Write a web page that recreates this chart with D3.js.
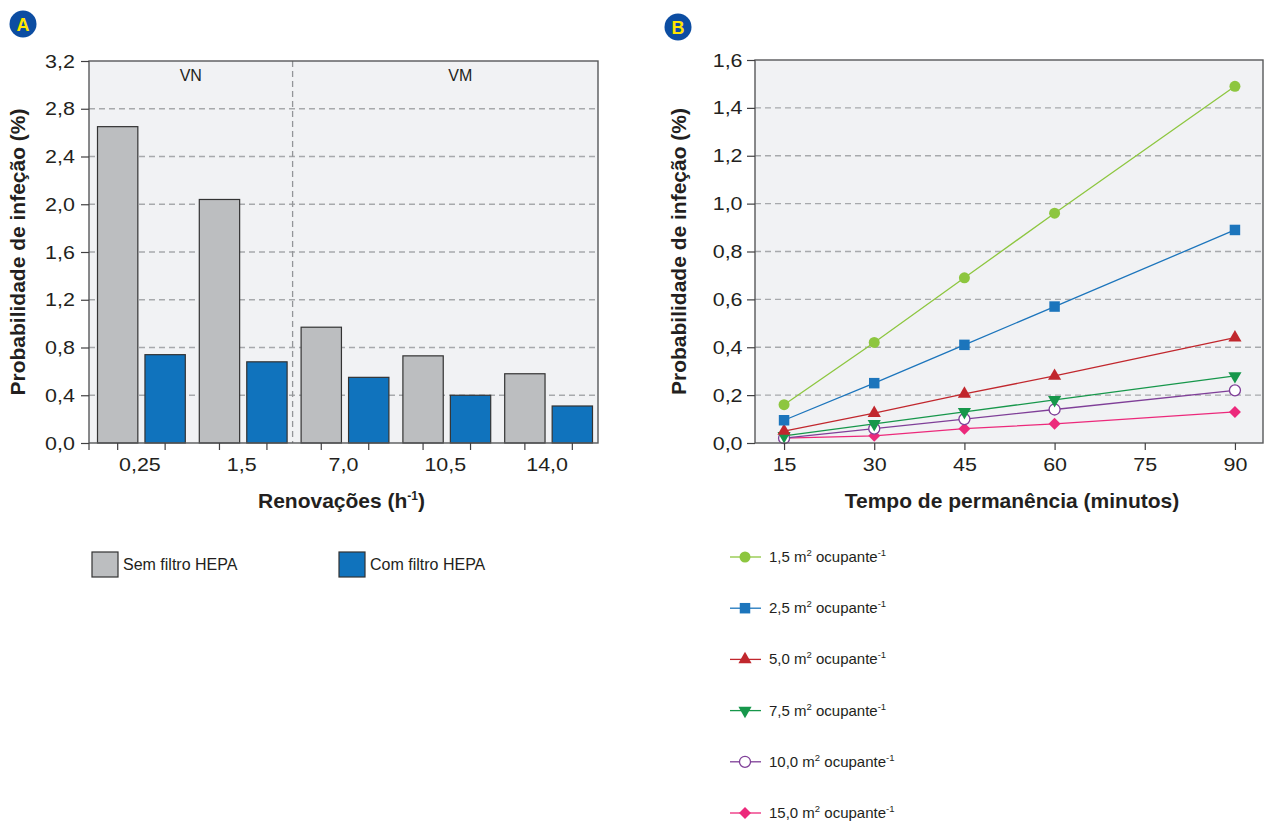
<!DOCTYPE html>
<html>
<head>
<meta charset="utf-8">
<script src="https://cdn.jsdelivr.net/npm/d3@7"></script>
<style>
  body { margin: 0; background: #fff; }
  svg { display: block; font-family: "Liberation Sans", Arial, sans-serif; }
</style>
</head>
<body>
<svg id="chart" width="1273" height="821"></svg>
<script>
// Panel A data
const renovacoes = ["0,25", "1,5", "7,0", "10,5", "14,0"];
const semFiltro = [2.65, 2.04, 0.97, 0.73, 0.58];
const comFiltro = [0.74, 0.68, 0.55, 0.40, 0.31];
const yTicksA = [0, 0.4, 0.8, 1.2, 1.6, 2.0, 2.4, 2.8, 3.2];

// Panel B data
const minutos = [15, 30, 45, 60, 90];
const xTicksB = [15, 30, 45, 60, 75, 90];
const yTicksB = [0, 0.2, 0.4, 0.6, 0.8, 1.0, 1.2, 1.4, 1.6];
const area15 = [0.16, 0.42, 0.69, 0.96, 1.49];
const area25 = [0.095, 0.25, 0.41, 0.57, 0.89];
const area50 = [0.05, 0.125, 0.205, 0.28, 0.44];
const area75 = [0.03, 0.08, 0.13, 0.18, 0.28];
const area100 = [0.02, 0.06, 0.10, 0.14, 0.22];
const area150 = [0.02, 0.03, 0.06, 0.08, 0.13];
const seriesLabels = ["1,5", "2,5", "5,0", "7,5", "10,0", "15,0"];

const svg = d3.select("#chart");
const pt = d3.formatLocale({ decimal: ",", thousands: ".", grouping: [3], currency: ["", ""] });
const fmt1 = pt.format(".1f");

const frameColor = "#58595b";
const textColor = "#231f20";

function badge(cx, cy, letter) {
    svg.append("circle").attr("cx", cx).attr("cy", cy).attr("r", 13.5).attr("fill", "#0c4da2");
    svg.append("text").attr("x", cx).attr("y", cy + 6.5).attr("text-anchor", "middle")
        .attr("font-size", 18).attr("font-weight", "bold").attr("fill", "#ffe500").text(letter);
}

// tick labels in the original are a little wider than Arial
function styleAxis(g) {
    g.select(".domain").remove();
    g.selectAll(".tick line").attr("stroke", "#414042").attr("stroke-width", 1.2);
    g.selectAll(".tick text").attr("fill", textColor).attr("font-size", 19)
        .attr("font-family", "Liberation Sans, Arial, sans-serif")
        .attr("transform", "scale(1.13,1)");
}

function gridLines(yScale, ticks, x1, x2) {
    svg.append("g").selectAll("line")
        .data(ticks.filter(t => t > 0 && t < ticks[ticks.length - 1]))
        .enter().append("line")
        .attr("x1", x1).attr("x2", x2)
        .attr("y1", d => yScale(d)).attr("y2", d => yScale(d))
        .attr("stroke", "#a7a9ac").attr("stroke-width", 1.3).attr("stroke-dasharray", "6,4");
}

// ---------- Panel A ----------
badge(23, 24, "A");
const A = { left: 89, right: 598, top: 61, bottom: 443 };

svg.append("rect").attr("x", A.left).attr("y", A.top)
    .attr("width", A.right - A.left).attr("height", A.bottom - A.top)
    .attr("fill", "#f1f2f4");

const yA = d3.scaleLinear().domain([0, 3.2]).range([A.bottom, A.top]);
const x0 = d3.scaleBand().domain(renovacoes).range([A.left, A.right]);
const x1 = d3.scaleBand().domain(["sem", "com"]).range([8.5, x0.bandwidth() - 5.5]).paddingInner(0.15);

gridLines(yA, yTicksA, A.left, A.right);

// VN / VM divider
const divX = x0(renovacoes[2]);
svg.append("line").attr("x1", divX).attr("x2", divX).attr("y1", A.top).attr("y2", A.bottom)
    .attr("stroke", "#939598").attr("stroke-width", 1.3).attr("stroke-dasharray", "6,4");
svg.append("text").attr("x", (A.left + divX) / 2).attr("y", 81).attr("text-anchor", "middle")
    .attr("font-size", 16).attr("fill", textColor).text("VN");
svg.append("text").attr("x", (divX + A.right) / 2 + 15).attr("y", 81).attr("text-anchor", "middle")
    .attr("font-size", 16).attr("fill", textColor).text("VM");

const barsA = renovacoes.map((r, i) => ({ r, sem: semFiltro[i], com: comFiltro[i] }));
const barColors = { sem: "#bcbec0", com: "#1073bd" };

const groups = svg.append("g").selectAll("g").data(barsA).enter().append("g")
    .attr("transform", d => `translate(${x0(d.r)},0)`);
groups.selectAll("rect")
    .data(d => ["sem", "com"].map(k => ({ k, v: d[k] })))
    .enter().append("rect")
    .attr("x", d => x1(d.k)).attr("width", x1.bandwidth())
    .attr("y", d => yA(d.v)).attr("height", d => yA(0) - yA(d.v))
    .attr("fill", d => barColors[d.k]).attr("stroke", "#333").attr("stroke-width", 1.2);

// frame
svg.append("rect").attr("x", A.left).attr("y", A.top)
    .attr("width", A.right - A.left).attr("height", A.bottom - A.top)
    .attr("fill", "none").attr("stroke", frameColor).attr("stroke-width", 1.4);

svg.append("g").attr("transform", `translate(${A.left},0)`)
    .call(d3.axisLeft(yA).tickValues(yTicksA).tickFormat(fmt1).tickSize(8).tickPadding(4.5))
    .call(styleAxis);

svg.append("g").attr("transform", `translate(0,${A.bottom})`)
    .call(d3.axisBottom(x0).tickSize(0).tickPadding(15))
    .call(styleAxis);

// tick marks under each bar
const barTicks = [];
barsA.forEach(d => ["sem", "com"].forEach(k => barTicks.push(x0(d.r) + x1(k) + x1.bandwidth() / 2)));
svg.append("g").selectAll("line").data([A.left].concat(barTicks)).enter().append("line")
    .attr("x1", d => d).attr("x2", d => d).attr("y1", A.bottom).attr("y2", A.bottom + 7)
    .attr("stroke", "#414042").attr("stroke-width", 1.2);

svg.append("text").attr("transform", `translate(25,${(A.top + A.bottom) / 2}) rotate(-90)`)
    .attr("text-anchor", "middle").attr("font-size", 21).attr("font-weight", "bold")
    .attr("fill", textColor).text("Probabilidade de infeção (%)");

const xtA = svg.append("text").attr("x", (A.left + A.right) / 2 - 2).attr("y", 508)
    .attr("text-anchor", "middle").attr("font-size", 21).attr("font-weight", "bold").attr("fill", textColor);
xtA.append("tspan").text("Renovações (h");
xtA.append("tspan").attr("font-size", 12).attr("dy", -8).text("-1");
xtA.append("tspan").attr("dy", 8).text(")");

// legend A
const legA = [{ k: "sem", label: "Sem filtro HEPA", x: 92 }, { k: "com", label: "Com filtro HEPA", x: 339 }];
legA.forEach(d => {
    svg.append("rect").attr("x", d.x).attr("y", 552).attr("width", 26).attr("height", 25)
        .attr("fill", barColors[d.k]).attr("stroke", "#333").attr("stroke-width", 1.2);
    svg.append("text").attr("x", d.x + 31).attr("y", 570).attr("font-size", 16)
        .attr("fill", textColor).text(d.label);
});

// ---------- Panel B ----------
badge(678, 27, "B");
const B = { left: 755, right: 1263, top: 60, bottom: 443 };

svg.append("rect").attr("x", B.left).attr("y", B.top)
    .attr("width", B.right - B.left).attr("height", B.bottom - B.top)
    .attr("fill", "#f1f2f4");

const xB = d3.scaleLinear().domain([10, 95]).range([B.left - 1, B.right + 2]);
const yB = d3.scaleLinear().domain([0, 1.6]).range([B.bottom, B.top]);

gridLines(yB, yTicksB, B.left, B.right);

const seriesB = [
    { label: seriesLabels[0], values: area15, color: "#8dc63f", shape: "circle" },
    { label: seriesLabels[1], values: area25, color: "#1c75bc", shape: "square" },
    { label: seriesLabels[2], values: area50, color: "#c1272d", shape: "triUp" },
    { label: seriesLabels[3], values: area75, color: "#17974b", shape: "triDown" },
    { label: seriesLabels[4], values: area100, color: "#7f3f98", shape: "hollow" },
    { label: seriesLabels[5], values: area150, color: "#ec297b", shape: "diamond" }
];

function drawMarker(g, shape, color) {
    if (shape === "circle") {
        g.append("circle").attr("r", 5.5).attr("fill", color);
    } else if (shape === "hollow") {
        g.append("circle").attr("r", 5.5).attr("fill", "#fff").attr("stroke", color).attr("stroke-width", 1.3);
    } else if (shape === "square") {
        g.append("path").attr("d", d3.symbol(d3.symbolSquare, 110)()).attr("fill", color);
    } else if (shape === "triUp") {
        g.append("path").attr("d", d3.symbol(d3.symbolTriangle, 75)()).attr("fill", color);
    } else if (shape === "triDown") {
        g.append("path").attr("d", d3.symbol(d3.symbolTriangle, 75)()).attr("transform", "rotate(180)").attr("fill", color);
    } else if (shape === "diamond") {
        g.append("path").attr("d", d3.symbol(d3.symbolSquare, 72)()).attr("transform", "rotate(45)").attr("fill", color);
    }
}

const line = d3.line().x(d => xB(d.x)).y(d => yB(d.y));

// draw from bottom series upward so top series sit on top
seriesB.slice().reverse().forEach(s => {
    const pts = minutos.map((m, i) => ({ x: m, y: s.values[i] }));
    svg.append("path").datum(pts).attr("d", line).attr("fill", "none")
        .attr("stroke", s.color).attr("stroke-width", 1.3);
    pts.forEach(p => {
        const g = svg.append("g").attr("transform", `translate(${xB(p.x)},${yB(p.y)})`);
        drawMarker(g, s.shape, s.color);
    });
});

svg.append("rect").attr("x", B.left).attr("y", B.top)
    .attr("width", B.right - B.left).attr("height", B.bottom - B.top)
    .attr("fill", "none").attr("stroke", frameColor).attr("stroke-width", 1.4);

svg.append("g").attr("transform", `translate(${B.left},0)`)
    .call(d3.axisLeft(yB).tickValues(yTicksB).tickFormat(fmt1).tickSize(8).tickPadding(3))
    .call(styleAxis);

svg.append("g").attr("transform", `translate(0,${B.bottom})`)
    .call(d3.axisBottom(xB).tickValues(xTicksB).tickFormat(d3.format("d")).tickSize(7).tickPadding(8))
    .call(styleAxis);

svg.append("text").attr("transform", `translate(686,${(B.top + B.bottom) / 2}) rotate(-90)`)
    .attr("text-anchor", "middle").attr("font-size", 21).attr("font-weight", "bold")
    .attr("fill", textColor).text("Probabilidade de infeção (%)");

svg.append("text").attr("x", (B.left + B.right) / 2 + 3).attr("y", 508)
    .attr("text-anchor", "middle").attr("font-size", 21).attr("font-weight", "bold")
    .attr("fill", textColor).text("Tempo de permanência (minutos)");

// legend B
seriesB.forEach((s, i) => {
    const y = 557 + i * 51.2;
    svg.append("line").attr("x1", 730).attr("x2", 761).attr("y1", y).attr("y2", y)
        .attr("stroke", s.color).attr("stroke-width", 1.3);
    const g = svg.append("g").attr("transform", `translate(745,${y})`);
    drawMarker(g, s.shape, s.color);
    const t = svg.append("text").attr("x", 769).attr("y", y + 5).attr("font-size", 15).attr("fill", textColor);
    t.append("tspan").text(s.label + " m");
    t.append("tspan").attr("font-size", 9.5).attr("dy", -6).text("2");
    t.append("tspan").attr("dy", 6).text(" ocupante");
    t.append("tspan").attr("font-size", 9.5).attr("dy", -6).text("-1");
});
</script>
</body>
</html>
